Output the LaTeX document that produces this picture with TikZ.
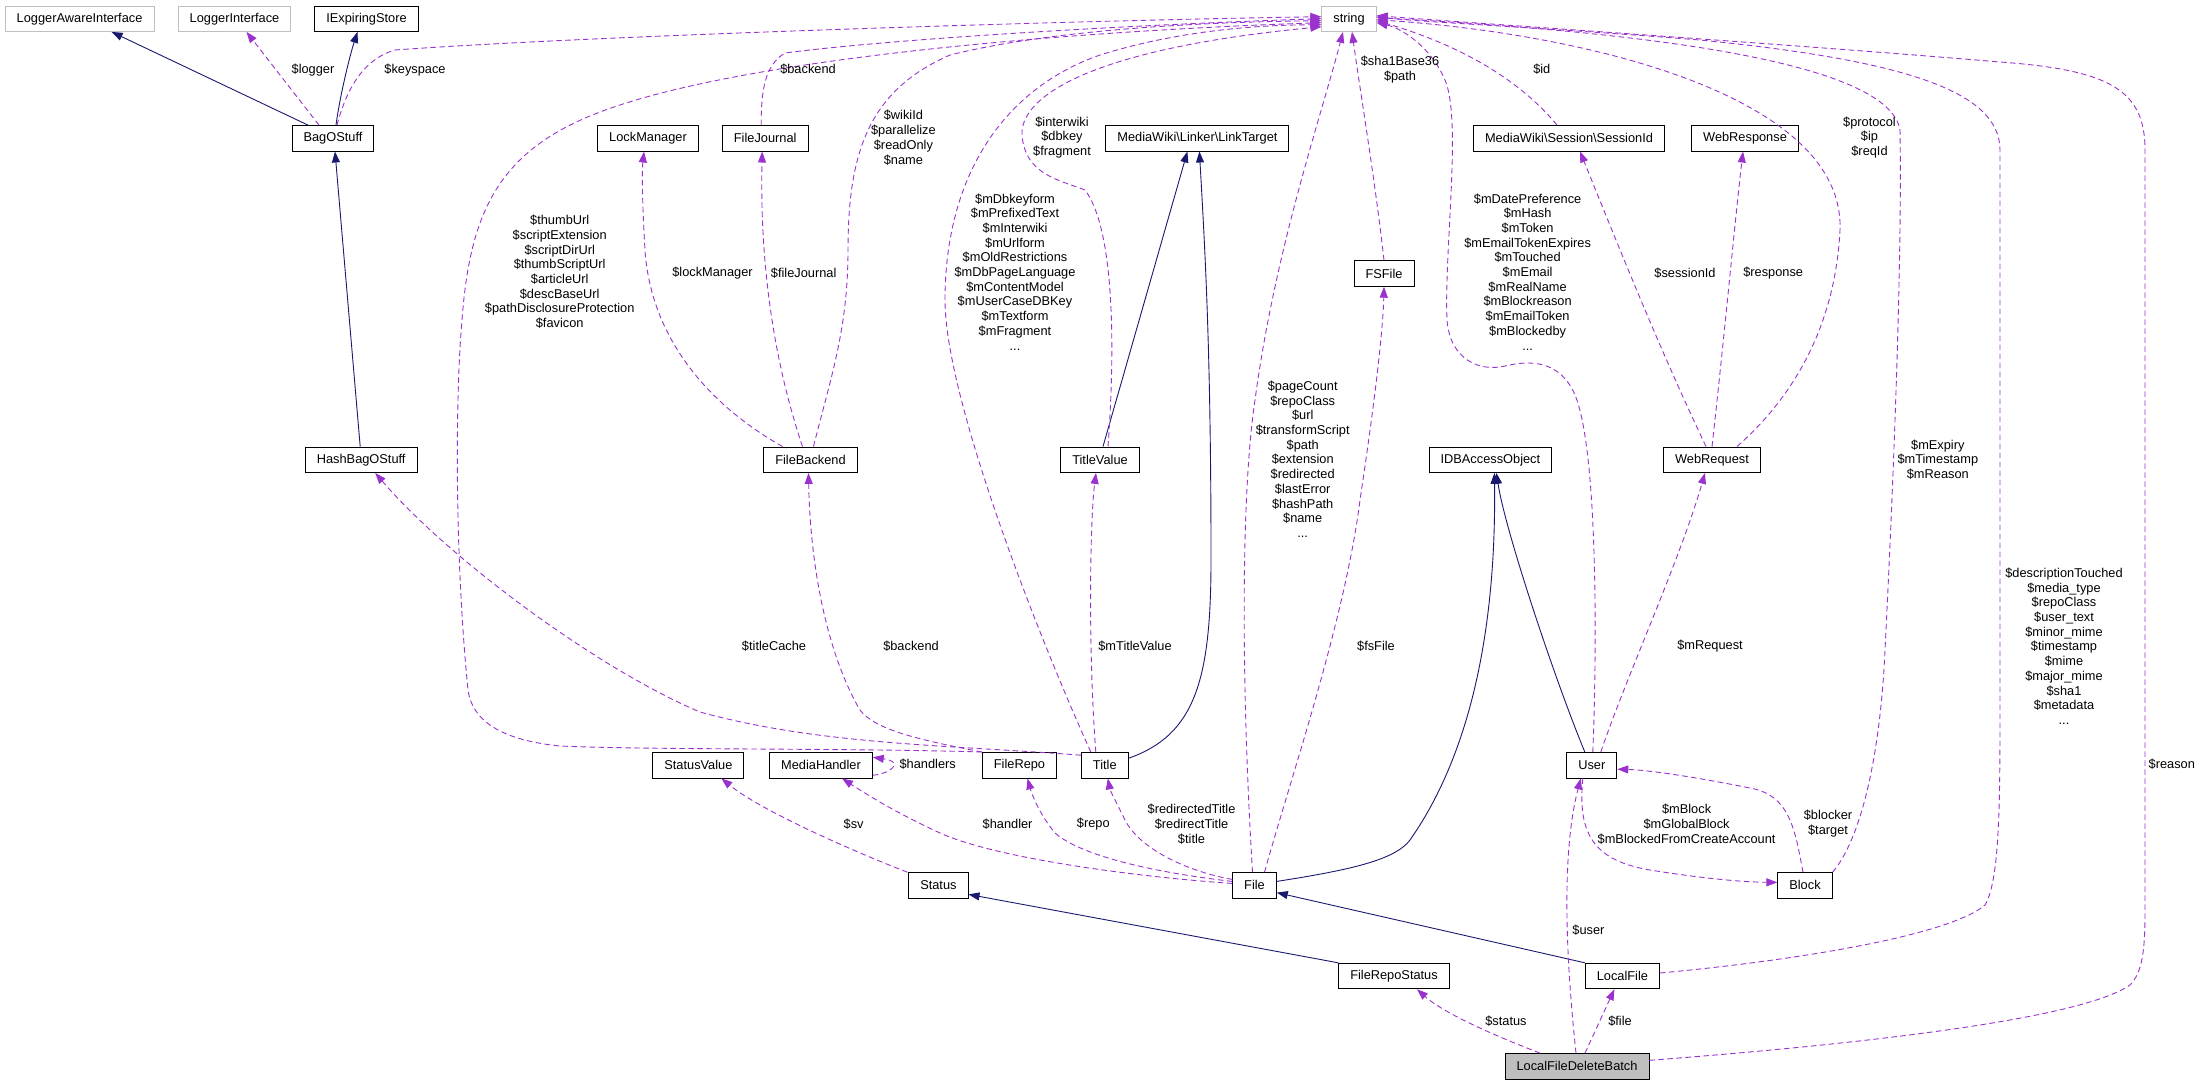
\documentclass[tikz,border=0pt]{standalone}
\usepackage{fontspec}
\setmainfont{Liberation Sans}
\usetikzlibrary{arrows.meta}
\definecolor{navyc}{HTML}{191970}
\definecolor{purc}{HTML}{9A32CD}
\definecolor{grayb}{HTML}{BFBFBF}
\begin{document}
\begin{tikzpicture}[x=1pt,y=-1pt,
  cls/.style={draw=black,line width=0.9pt,minimum height=25.5pt,inner xsep=11.5pt,inner ysep=0pt,font=\fontsize{12.8}{14.7}\selectfont},
  ext/.style={cls,draw=grayb},
  lbl/.style={inner sep=0pt,align=center,font=\fontsize{12.8}{14.7}\selectfont},
  inhline/.style={draw=navyc,line width=0.9pt,-{Triangle[length=11pt,width=8pt]}},
  mbrline/.style={draw=purc,line width=0.9pt,dash pattern=on 5.5pt off 3.5pt,-{Triangle[length=11pt,width=8pt]}}]
\useasboundingbox (0,0) rectangle (2201,1085);
\node[ext] (lai) at (79.6,18.7) {LoggerAwareInterface};
\node[ext] (li) at (234.5,18.7) {LoggerInterface};
\node[cls] (ies) at (366.5,18.7) {IExpiringStore};
\node[ext] (str) at (1349,18.7) {string};
\node[cls] (bag) at (333,138.3) {BagOStuff};
\node[cls] (lockm) at (648,138.3) {LockManager};
\node[cls] (fj) at (765.2,138.3) {FileJournal};
\node[cls] (lt) at (1197.4,138.3) {MediaWiki\textbackslash Linker\textbackslash LinkTarget};
\node[cls] (sid) at (1569,138.3) {MediaWiki\textbackslash Session\textbackslash SessionId};
\node[cls] (wresp) at (1745,138.3) {WebResponse};
\node[cls] (fsf) at (1384,273.5) {FSFile};
\node[cls] (hbag) at (361.2,459.7) {HashBagOStuff};
\node[cls] (fb) at (810.5,459.7) {FileBackend};
\node[cls] (tv) at (1100,459.7) {TitleValue};
\node[cls] (idb) at (1490.4,459.7) {IDBAccessObject};
\node[cls] (wreq) at (1712,459.7) {WebRequest};
\node[cls] (sv) at (698.4,765.2) {StatusValue};
\node[cls] (mh) at (821,765.2) {MediaHandler};
\node[cls] (frepo) at (1019.5,765.2) {FileRepo};
\node[cls] (title) at (1104.8,765.2) {Title};
\node[cls] (user) at (1591.8,765.2) {User};
\node[cls] (status) at (938.4,885.4) {Status};
\node[cls] (file) at (1254.5,885.4) {File};
\node[cls] (block) at (1805,885.4) {Block};
\node[cls] (frs) at (1394,976) {FileRepoStatus};
\node[cls] (lf) at (1622.4,976) {LocalFile};
\node[cls,fill=grayb] (lfdb) at (1577,1066.3) {LocalFileDeleteBatch};

\draw[inhline] ([xshift=-25pt]bag.north) -- ([xshift=32pt]lai.south);
\draw[inhline] ([xshift=3pt]bag.north) .. controls (340,95) and (350,55) .. ([xshift=-9pt]ies.south);
\draw[inhline] ([xshift=-1pt]hbag.north) -- ([xshift=2pt]bag.south);
\draw[inhline] ([xshift=3pt]tv.north) -- ([xshift=-10pt]lt.south);
\draw[inhline] ([yshift=7pt]title.east) .. controls (1195,735) and (1211,680) .. (1211,560) .. controls (1211,350) and (1205,250) .. ([xshift=2pt]lt.south);
\draw[inhline] ([yshift=4pt]file.east) .. controls (1350,870) and (1395,860) .. (1410,840) .. controls (1480,740) and (1496,600) .. ([xshift=4pt]idb.south);
\draw[inhline] ([xshift=-7pt]user.north) .. controls (1555,680) and (1505,530) .. ([xshift=6pt]idb.south);
\draw[inhline] (lf.north west) -- ([yshift=6pt]file.south east);
\draw[inhline] (frs.north west) -- ([yshift=-9pt]status.east);

\draw[mbrline] ([xshift=-14pt]bag.north) -- ([xshift=12pt]li.south);
\draw[mbrline] ([xshift=4pt]bag.north) .. controls (345,95) and (360,60) .. (395,50) .. controls (600,35) and (1100,20) .. ([yshift=2pt]str.west);
\draw[mbrline] (frepo.north west) .. controls (850,748) and (650,750) .. (560,746) .. controls (500,740) and (472,720) .. (468,690) .. controls (455,560) and (455,400) .. (462,320) .. controls (470,210) and (500,150) .. (600,112) .. controls (750,55) and (1100,30) .. ([yshift=-4pt]str.west);
\draw[mbrline] ([yshift=10pt]title.west) .. controls (950,745) and (820,745) .. (700,712) .. controls (600,670) and (450,560) .. ([xshift=14pt]hbag.south);
\draw[mbrline] (frepo.north west) .. controls (920,740) and (875,730) .. (860,710) .. controls (825,650) and (810,560) .. ([xshift=-2pt]fb.south);
\draw[mbrline] ([xshift=-9pt]title.north) .. controls (1088,650) and (1090,520) .. ([xshift=-4pt]tv.south);
\draw[mbrline] ([xshift=-14pt]title.north) .. controls (1040,640) and (945,400) .. (945,300) .. controls (945,180) and (1000,90) .. (1100,55) .. controls (1180,30) and (1260,25) .. ([yshift=-6pt]str.west);
\draw[mbrline] ([xshift=8pt]tv.north) .. controls (1115,350) and (1115,230) .. (1085,190) .. controls (1060,180) and (1025,175) .. (1022,135) .. controls (1020,100) and (1080,50) .. ([yshift=-8pt]str.west);
\draw[mbrline] ([xshift=3pt]fb.north) .. controls (830,380) and (848,330) .. (848,250) .. controls (848,150) and (870,90) .. (950,55) .. controls (1050,30) and (1200,22) .. ([yshift=-2pt]str.west);
\draw[mbrline] ([xshift=-28pt]fb.north) .. controls (700,400) and (650,330) .. (645,250) .. controls (642,200) and (642,170) .. ([xshift=-4pt]lockm.south);
\draw[mbrline] ([xshift=-8pt]fb.north) .. controls (770,350) and (760,250) .. ([xshift=-3pt]fj.south);
\draw[mbrline] ([xshift=-4pt]fj.north) .. controls (761,90) and (765,65) .. (785,53) .. controls (900,38) and (1150,24) .. (str.west);
\draw[mbrline] ([xshift=-2pt]file.north) .. controls (1242,700) and (1240,500) .. (1255,400) .. controls (1275,250) and (1320,120) .. ([xshift=-6pt]str.south);
\draw[mbrline] ([xshift=10pt]file.north) .. controls (1290,780) and (1345,620) .. (1360,500) .. controls (1375,400) and (1383,330) .. (fsf.south);
\draw[mbrline] (fsf.north) .. controls (1375,180) and (1360,90) .. ([xshift=3pt]str.south);
\draw[mbrline] ([xshift=1pt]user.north) .. controls (1597,650) and (1598,450) .. (1575,395) .. controls (1560,360) and (1530,360) .. (1505,366) .. controls (1480,372) and (1450,360) .. (1447,320) .. controls (1444,250) and (1462,120) .. (1445,80) .. controls (1430,45) and (1400,28) .. ([yshift=-4pt]str.east);
\draw[mbrline] ([xshift=-6pt]wreq.north) .. controls (1660,350) and (1620,250) .. ([xshift=11pt]sid.south);
\draw[mbrline] ([xshift=-12pt]sid.north) .. controls (1520,80) and (1460,45) .. ([yshift=-2pt]str.east);
\draw[mbrline] (wreq.north) .. controls (1725,330) and (1735,220) .. ([xshift=-2pt]wresp.south);
\draw[mbrline] ([xshift=25pt]wreq.north) .. controls (1790,400) and (1835,330) .. (1840,230) .. controls (1845,100) and (1600,35) .. ([yshift=-1pt]str.east);
\draw[mbrline] (block.north east) .. controls (1860,840) and (1880,760) .. (1885,650) .. controls (1895,450) and (1902,250) .. (1900,130) .. controls (1890,70) and (1700,35) .. ([yshift=1pt]str.east);
\draw[mbrline] ([yshift=3pt]lf.east) .. controls (1800,960) and (1950,935) .. (1985,905) .. controls (2000,880) and (2000,800) .. (2000,700) -- (2000,150) .. controls (2000,90) and (1900,60) .. (1700,40) .. controls (1550,28) and (1420,22) .. ([yshift=2pt]str.east);
\draw[mbrline] ([yshift=6pt]lfdb.east) .. controls (1850,1045) and (2080,1020) .. (2130,985) .. controls (2145,970) and (2145,940) .. (2145,900) -- (2145,150) .. controls (2145,90) and (2110,70) .. (2000,62) .. controls (1800,45) and (1500,25) .. ([yshift=3pt]str.east);
\draw[mbrline] ([xshift=9pt]user.north) .. controls (1625,680) and (1680,560) .. ([xshift=-7pt]wreq.south);
\draw[mbrline] ([xshift=-9pt]user.south) .. controls (1578,830) and (1590,860) .. (1650,870) .. controls (1700,878) and (1740,882) .. ([yshift=3pt]block.west);
\draw[mbrline] ([xshift=-2pt]block.north) .. controls (1795,830) and (1790,795) .. (1750,788) .. controls (1700,778) and (1650,770) .. ([yshift=-4pt]user.east);
\draw[mbrline] ([xshift=-1pt]lfdb.north) .. controls (1565,950) and (1562,850) .. ([xshift=-11pt]user.south);
\draw[mbrline] ([xshift=8pt]lfdb.north) -- ([xshift=-8pt]lf.south);
\draw[mbrline] ([xshift=-37pt]lfdb.north) .. controls (1480,1030) and (1440,1010) .. ([xshift=23pt]frs.south);
\draw[mbrline] ([yshift=2pt]file.west) .. controls (1150,878) and (1000,860) .. (940,833) .. controls (890,810) and (860,790) .. ([xshift=21pt]mh.south);
\draw[mbrline] ([yshift=4pt]file.west) .. controls (1150,872) and (1080,855) .. (1055,833) .. controls (1040,815) and (1032,795) .. ([xshift=8pt]frepo.south);
\draw[mbrline] ([yshift=6pt]file.west) .. controls (1190,872) and (1140,850) .. (1125,820) .. controls (1115,800) and (1110,790) .. ([xshift=3pt]title.south);
\draw[mbrline] ([xshift=-31pt]status.north) .. controls (850,850) and (760,810) .. ([xshift=23pt]sv.south);
\draw[mbrline] ([yshift=-10pt]mh.east) .. controls (890,774) and (905,762) .. ([yshift=8pt]mh.east);

\node[lbl] (llogger) at (313,69.7) {\$logger};
\node[lbl] (lkeyspace) at (415,69.7) {\$keyspace};
\node[lbl] (lbackendj) at (808,69.7) {\$backend};
\node[lbl] (lwikiid) at (903.4,137.7) {\$wikiId\\\$parallelize\\\$readOnly\\\$name};
\node[lbl] (lthumb) at (559.7,271.8) {\$thumbUrl\\\$scriptExtension\\\$scriptDirUrl\\\$thumbScriptUrl\\\$articleUrl\\\$descBaseUrl\\\$pathDisclosureProtection\\\$favicon};
\node[lbl] (llock) at (712.5,272.7) {\$lockManager};
\node[lbl] (ljournal) at (803.7,272.7) {\$fileJournal};
\node[lbl] (linterwiki) at (1062,137.3) {\$interwiki\\\$dbkey\\\$fragment};
\node[lbl] (ldbkey) at (1015,271.8) {\$mDbkeyform\\\$mPrefixedText\\\$mInterwiki\\\$mUrlform\\\$mOldRestrictions\\\$mDbPageLanguage\\\$mContentModel\\\$mUserCaseDBKey\\\$mTextform\\\$mFragment\\...};
\node[lbl] (lsha) at (1400,69.5) {\$sha1Base36\\\$path};
\node[lbl] (lid) at (1541.8,69.7) {\$id};
\node[lbl] (ldate) at (1527.6,271.8) {\$mDatePreference\\\$mHash\\\$mToken\\\$mEmailTokenExpires\\\$mTouched\\\$mEmail\\\$mRealName\\\$mBlockreason\\\$mEmailToken\\\$mBlockedby\\...};
\node[lbl] (lprotocol) at (1869.5,137.3) {\$protocol\\\$ip\\\$reqId};
\node[lbl] (lsession) at (1685,272.7) {\$sessionId};
\node[lbl] (lresponse) at (1773.2,272.7) {\$response};
\node[lbl] (lpage) at (1302.7,459.2) {\$pageCount\\\$repoClass\\\$url\\\$transformScript\\\$path\\\$extension\\\$redirected\\\$lastError\\\$hashPath\\\$name\\...};
\node[lbl] (lexpiry) at (1937.8,459.5) {\$mExpiry\\\$mTimestamp\\\$mReason};
\node[lbl] (ldesc) at (2064,646.2) {\$descriptionTouched\\\$media\_type\\\$repoClass\\\$user\_text\\\$minor\_mime\\\$timestamp\\\$mime\\\$major\_mime\\\$sha1\\\$metadata\\...};
\node[lbl] (ltcache) at (774,645.7) {\$titleCache};
\node[lbl] (lbackendr) at (911,645.7) {\$backend};
\node[lbl] (ltvalue) at (1135,645.7) {\$mTitleValue};
\node[lbl] (lfsfile) at (1376,645.7) {\$fsFile};
\node[lbl] (lrequest) at (1710,645.7) {\$mRequest};
\node[lbl] (lhandlers) at (927.7,764.3) {\$handlers};
\node[lbl] (lsv) at (853.6,824.3) {\$sv};
\node[lbl] (lhandler) at (1007.6,824.3) {\$handler};
\node[lbl] (lrepo) at (1093.3,824.3) {\$repo};
\node[lbl] (ltitle) at (1191.5,824) {\$redirectedTitle\\\$redirectTitle\\\$title};
\node[lbl] (lmblock) at (1686.6,824) {\$mBlock\\\$mGlobalBlock\\\$mBlockedFromCreateAccount};
\node[lbl] (lblocker) at (1828,823.8) {\$blocker\\\$target};
\node[lbl] (luser) at (1588.4,929.7) {\$user};
\node[lbl] (lstatus) at (1506,1020.7) {\$status};
\node[lbl] (lfile) at (1620,1020.7) {\$file};
\node[lbl] (lreason) at (2171.8,764.3) {\$reason};
\end{tikzpicture}
\end{document}
